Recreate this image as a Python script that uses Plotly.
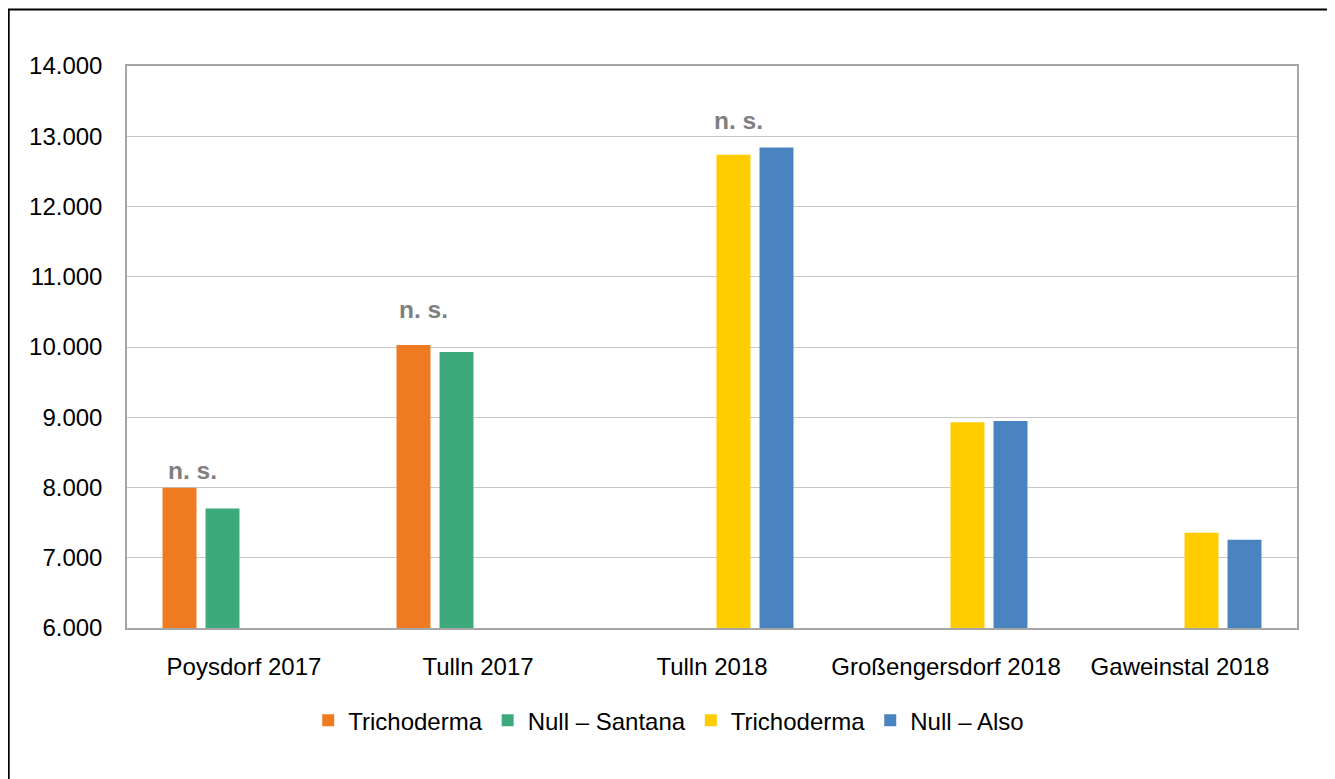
import plotly.graph_objects as go

categories = ["Poysdorf 2017", "Tulln 2017", "Tulln 2018", "Großengersdorf 2018", "Gaweinstal 2018"]
series_names = ["Trichoderma", "Null – Santana", "Trichoderma", "Null – Also"]
trich_santana = [7995, 10030, None, None, None]
null_santana = [7700, 9930, None, None, None]
trich_also = [None, None, 12735, 8930, 7355]
null_also = [None, None, 12840, 8945, 7255]
colors = ["#EE7B21", "#3EA97B", "#FFCC00", "#4A84C0"]

ns_labels = ["n. s.", "n. s.", "n. s."]
ns_cats = ["Poysdorf 2017", "Tulln 2017", "Tulln 2018"]
ns_y = [8235, 10540, 13220]
ns_shift = [-52, -55, 26]

FONT = "Liberation Sans, Arial"

fig = go.Figure()
for name, vals, col in zip(series_names, [trich_santana, null_santana, trich_also, null_also], colors):
    fig.add_trace(go.Bar(x=categories, y=vals, name=name, marker=dict(color=col, line=dict(width=0))))

for t, c, yv, sh in zip(ns_labels, ns_cats, ns_y, ns_shift):
    fig.add_annotation(x=c, y=yv, text="<b>" + t + "</b>", showarrow=False, xshift=sh,
                       font=dict(family=FONT, size=24.5, color="#7F7F7F"))

# page body has an 8px margin: figure coords = screen - 8
L, T, PW, PH = 119, 58, 1170, 562
fig.add_shape(type="rect", xref="paper", yref="paper",
              x0=(0.8 - L) / PW, x1=(1321 - L) / PW,
              y0=(T + PH - 800) / PH, y1=(T + PH - 1.5) / PH,
              line=dict(color="black", width=1.8), fillcolor="rgba(0,0,0,0)")

fig.update_layout(
    width=1335, height=779,
    margin=dict(l=L, r=1335 - L - PW, t=T, b=779 - T - PH),
    barmode="group", bargap=0.265, bargroupgap=0.21,
    paper_bgcolor="white", plot_bgcolor="white",
    separators=",.",
    font=dict(family=FONT, size=24, color="black"),
    showlegend=True,
    legend=dict(orientation="h", x=0.463, xanchor="center", y=-0.165, yanchor="middle",
                font=dict(size=24), traceorder="normal", itemclick=False),
    xaxis=dict(showline=True, linecolor="#A6A6A6", linewidth=1.5, mirror=True,
               ticks="", ticklabelstandoff=16, showgrid=False),
    yaxis=dict(range=[6000, 14000], dtick=1000, tickformat=",.0f", showline=True,
               linecolor="#A6A6A6", linewidth=1.5, mirror=True, gridcolor="#C8C8C8",
               gridwidth=1.2, ticks="", ticklabelstandoff=18, zeroline=False),
)

fig.write_html("out.html")
